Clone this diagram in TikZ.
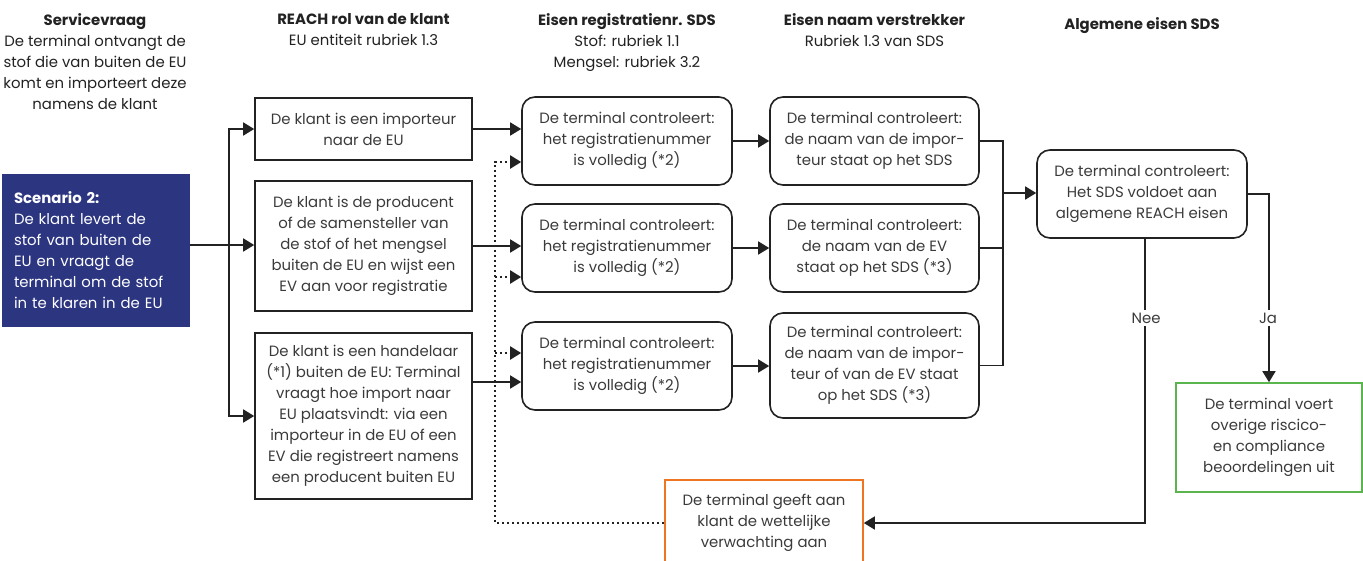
\documentclass[tikz,border=0pt]{standalone}
\usepackage{fontspec}
\setmainfont{Poppins}
\usetikzlibrary{arrows.meta}
\definecolor{linec}{HTML}{222222}
\definecolor{textc}{HTML}{3A3A3A}
\definecolor{scenblue}{HTML}{2B3580}
\definecolor{okgreen}{HTML}{5BB54F}
\definecolor{warnorange}{HTML}{EE7623}
\tikzset{
  txt/.style={font=\fontsize{14.9}{21}\selectfont, text=textc, align=center, inner sep=0pt},
  hdr/.style={txt, anchor=north, text=linec},
  box/.style={txt, draw=linec, line width=1.6pt},
  rbox/.style={box, rounded corners=13pt},
  arr/.style={draw=linec, line width=1.6pt, -{Triangle[length=11pt,width=13pt]}},
  ln/.style={draw=linec, line width=1.6pt},
  dotarr/.style={draw=linec, line width=2pt, dash pattern=on 2pt off 3pt, -{Triangle[length=11pt,width=13pt]}},
  lbl/.style={txt, fill=white, inner sep=3pt}
}
\begin{document}
\begin{tikzpicture}[x=1pt,y=-1pt]
\useasboundingbox (0,0) rectangle (1363,560);
% headers
\node[hdr] (h1) at (95,13) {\textbf{Servicevraag}\\De terminal ontvangt de\\stof die van buiten de EU\\komt en importeert deze\\namens de klant};
\node[hdr] (h2) at (363.5,13) {\textbf{REACH rol van de klant}\\EU entiteit rubriek 1.3};
\node[hdr] (h3) at (627,13) {\textbf{Eisen registratienr. SDS}\\Stof: rubriek 1.1\\Mengsel: rubriek 3.2};
\node[hdr] (h4) at (874.5,13) {\textbf{Eisen naam verstrekker}\\Rubriek 1.3 van SDS};
\node[hdr] (h5) at (1142,17) {\textbf{Algemene eisen SDS}};
% scenario
\node[txt, fill=scenblue, text=white, align=left, text width=164pt, inner xsep=12pt,
  minimum width=188pt, minimum height=153pt] (S) at (96,250.5)
  {\textbf{Scenario 2:}\\De klant levert de\\stof van buiten de\\EU en vraagt de\\terminal om de stof\\in te klaren in de EU};
% column 2
\node[box, minimum width=217pt, minimum height=62pt] (b1) at (363.5,129) {De klant is een importeur\\naar de EU};
\node[box, minimum width=217pt, minimum height=130pt] (b2) at (363.5,246) {De klant is de producent\\of de samensteller van\\de stof of het mengsel\\buiten de EU en wijst een\\EV aan voor registratie};
\node[box, minimum width=217pt, minimum height=166pt] (b3) at (363.5,416) {De klant is een handelaar\\(*1) buiten de EU: Terminal\\vraagt hoe import naar\\EU plaatsvindt: via een\\importeur in de EU of een\\EV die registreert namens\\een producent buiten EU};
% column 3
\node[rbox, minimum width=210pt, minimum height=88pt] (A) at (627,141) {De terminal controleert:\\het registratienummer\\is volledig (*2)};
\node[rbox, minimum width=210pt, minimum height=88pt] (B) at (627,248) {De terminal controleert:\\het registratienummer\\is volledig (*2)};
\node[rbox, minimum width=210pt, minimum height=88pt] (C) at (627,366) {De terminal controleert:\\het registratienummer\\is volledig (*2)};
% column 4
\node[rbox, minimum width=209pt, minimum height=88pt] (E) at (874.5,141) {De terminal controleert:\\de naam van de impor-\\teur staat op het SDS};
\node[rbox, minimum width=209pt, minimum height=88pt] (F) at (874.5,248) {De terminal controleert:\\de naam van de EV\\staat op het SDS (*3)};
\node[rbox, minimum width=209pt, minimum height=105pt] (G) at (874.5,365.5) {De terminal controleert:\\de naam van de impor-\\teur of van de EV staat\\op het SDS (*3)};
% column 5
\node[rbox, minimum width=210pt, minimum height=88pt] (D) at (1142,194) {De terminal controleert:\\Het SDS voldoet aan\\algemene REACH eisen};
\node[box, draw=okgreen, minimum width=186pt, minimum height=109pt] (Y) at (1269,437.5) {De terminal voert\\overige riscico-\\en compliance\\beoordelingen uit};
\node[box, draw=warnorange, minimum width=198pt, minimum height=86pt] (O) at (764,523) {De terminal geeft aan\\klant de wettelijke\\verwachting aan};
% junction coordinates
\coordinate (j) at (229,245);
\coordinate (dt) at (495,162);
\coordinate (m) at (1003,193);
\coordinate (nee) at (1145,523);
% left fan-out
\draw[ln] (S.east |- j) -- (j);
\draw[arr] (j) |- (b1.west);
\draw[arr] (j) -- (b2.west |- j);
\draw[arr] (j) |- (b3.west);
% to column 3
\draw[arr] (b1.east) -- (b1.east -| A.west);
\draw[arr] (b2.east) -- (b2.east -| B.west);
\draw[arr] (b3.east |- 0,382) -- (C.west |- 0,382);
% dotted feedback
\draw[dotarr] (O.west) -| (dt) -- (A.west |- dt);
\draw[dotarr] (dt |- 0,277) -- (B.west |- 0,277);
\draw[dotarr] (dt |- 0,353) -- (C.west |- 0,353);
% column 3 to 4
\draw[arr] (A.east) -- (E.west);
\draw[arr] (B.east) -- (F.west);
\draw[arr] (C.east) -- (C.east -| G.west);
% merge
\draw[ln] (E.east) -- (E.east -| m) -- (G.east -| m) -- (G.east);
\draw[ln] (F.east) -- (F.east -| m);
\draw[arr] (m) -- (m -| D.west);
% outcomes
\draw[arr] (D.south -| nee) -- (nee) -- (O.east);
\draw[arr] (D.east) -| (Y.north);
\node[lbl] (nl) at (1146,318) {Nee};
\node[lbl] (jl) at (1268,318) {Ja};
\end{tikzpicture}
\end{document}
